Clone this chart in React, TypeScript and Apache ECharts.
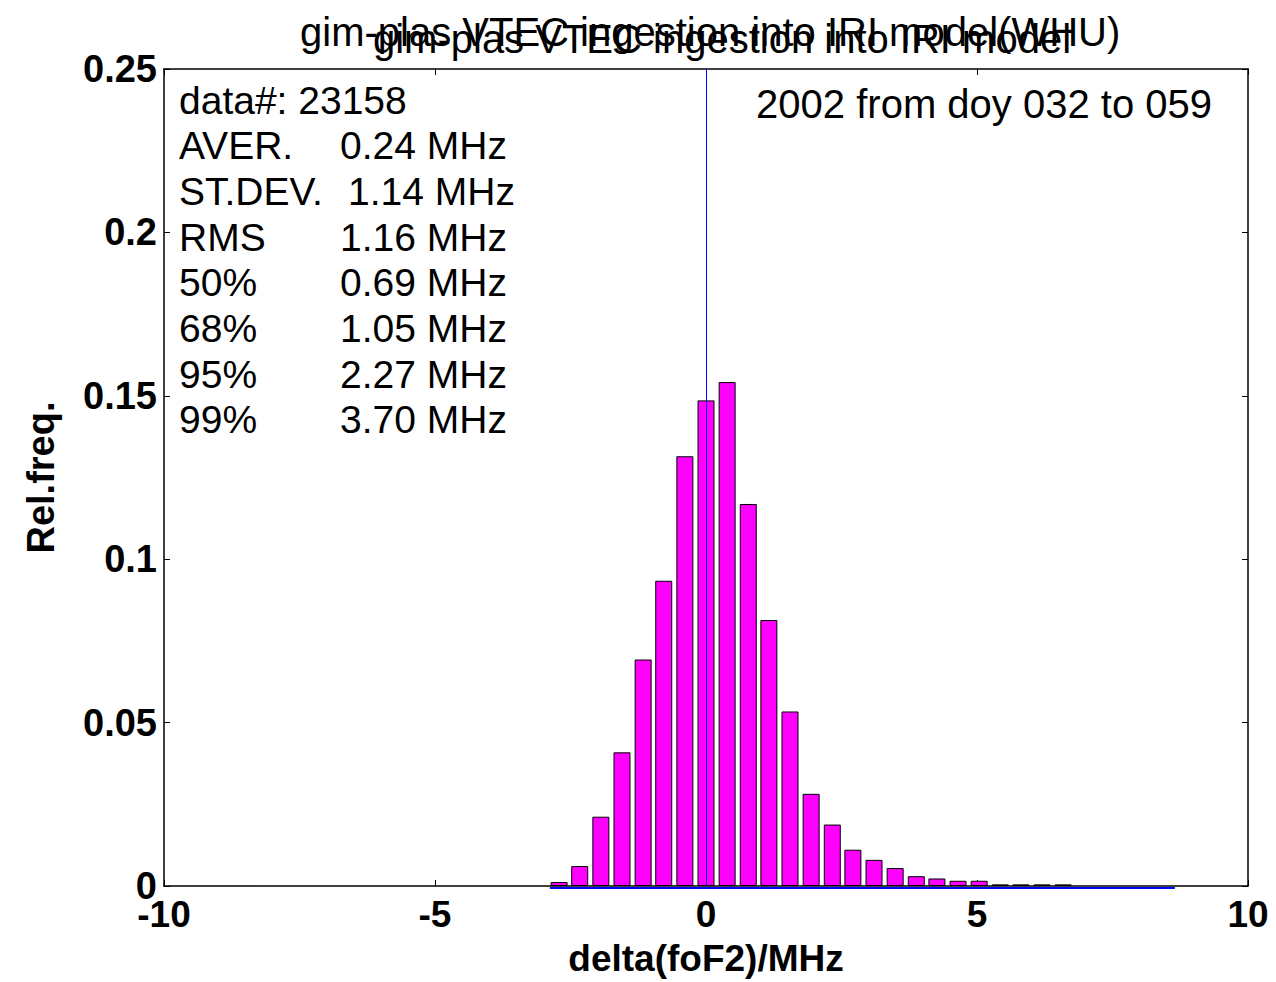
import React, { useEffect, useRef } from "react";
import * as echarts from "echarts";

// Histogram bin centres (MHz) and relative frequencies
const binCenters = [
  -2.71, -2.33, -1.94, -1.55, -1.16, -0.78, -0.39, 0, 0.39, 0.78, 1.16, 1.55, 1.94,
  2.33, 2.71, 3.1, 3.49, 3.88, 4.26, 4.65, 5.04, 5.43, 5.81, 6.2, 6.59,
];
const relFreq = [
  0.0012, 0.0061, 0.0212, 0.0409, 0.0693, 0.0934, 0.1315, 0.1486, 0.1542, 0.1169,
  0.0814, 0.0534, 0.0282, 0.0188, 0.0111, 0.008, 0.0055, 0.003, 0.0023, 0.0016,
  0.0016, 0.0005, 0.0005, 0.0005, 0.0005,
];
const baselineSpan = [-2.88, 8.65];

const yTicks = [0, 0.05, 0.1, 0.15, 0.2, 0.25];

const titleA = "gim-plas VTEC ingestion into IRI model(WHU)";
const titleB = "gim-plas VTEC ingestion into IRI model";
const periodText = "2002 from doy 032 to 059";
const statLabels = ["data#: 23158", "AVER.", "ST.DEV.", "RMS", "50%", "68%", "95%", "99%"];
const statValues = ["", "0.24 MHz", "1.14 MHz", "1.16 MHz", "0.69 MHz", "1.05 MHz", "2.27 MHz", "3.70 MHz"];

const FONT = "'Liberation Sans', Arial, Helvetica, sans-serif";

export default function App() {
  const ref = useRef<HTMLDivElement>(null);
  useEffect(() => {
    if (!ref.current) return;
    const chart = echarts.init(ref.current, null, { renderer: "svg" });
    const statGraphics: any[] = [];
    statLabels.forEach((t, i) => {
      const y = 100 + i * 45.7;
      statGraphics.push({
        type: "text",
        x: 179,
        y,
        style: { text: t, font: `39px ${FONT}`, fill: "#000", verticalAlign: "middle", align: "left" },
      });
      if (statValues[i]) {
        statGraphics.push({
          type: "text",
          x: i === 2 ? 348 : 340,
          y,
          style: { text: statValues[i], font: `39px ${FONT}`, fill: "#000", verticalAlign: "middle", align: "left" },
        });
      }
    });
    const axisCommon = {
      type: "value" as const,
      axisLine: { show: true, onZero: false, lineStyle: { color: "#000", width: 1.5 } },
      axisTick: { show: true, inside: true, length: 6, lineStyle: { color: "#000" } },
      splitLine: { show: false },
    };
    const labelFont = { color: "#000", fontSize: 38, fontWeight: "bold" as const, fontFamily: FONT };
    chart.setOption({
      animation: false,
      backgroundColor: "#fff",
      grid: { left: 164, right: 28, top: 69, bottom: 93, containLabel: false },
      xAxis: [
        {
          ...axisCommon,
          position: "bottom",
          min: -10,
          max: 10,
          interval: 5,
          axisLabel: { ...labelFont, fontSize: 37, margin: 10 },
          name: "delta(foF2)/MHz",
          nameLocation: "middle",
          nameGap: 54,
          nameTextStyle: { ...labelFont, fontSize: 37 },
        },
        {
          ...axisCommon,
          position: "top",
          min: -10,
          max: 10,
          interval: 5,
          axisLabel: { show: false },
        },
      ],
      yAxis: [
        {
          ...axisCommon,
          position: "left",
          min: 0,
          max: 0.25,
          interval: 0.05,
          axisLabel: {
            ...labelFont,
            margin: 7,
            formatter: (v: number) => {
              const m = yTicks.find((t) => Math.abs(t - v) < 1e-9);
              return m === undefined ? "" : String(+m.toFixed(2));
            },
          },
          name: "Rel.freq.",
          nameLocation: "middle",
          nameGap: 104,
          nameTextStyle: { ...labelFont, fontSize: 38 },
        },
        {
          ...axisCommon,
          position: "right",
          min: 0,
          max: 0.25,
          interval: 0.05,
          axisLabel: { show: false },
        },
      ],
      series: [
        {
          type: "line",
          data: baselineSpan.map((x) => [x, -0.0006]),
          symbol: "none",
          clip: false,
          lineStyle: { color: "#0000ff", width: 2 },
          z: 1,
          silent: true,
        },
        {
          type: "bar",
          data: binCenters.map((x, i) => [x, relFreq[i]]),
          barWidth: 17,
          itemStyle: { color: "#ff00ff", borderColor: "#000", borderWidth: 1 },
          z: 2,
          markLine: {
            silent: true,
            symbol: "none",
            label: { show: false },
            lineStyle: { color: "#0000ff", width: 1, type: "solid" },
            data: [{ xAxis: 0 }],
          },
        },
      ],
      graphic: [
        {
          type: "text",
          x: 300,
          y: 12,
          style: { text: titleA, font: `40px ${FONT}`, fill: "#000", align: "left" },
        },
        {
          type: "text",
          x: 722,
          y: 19,
          style: { text: titleB, font: `40px ${FONT}`, fill: "#000", align: "center" },
        },
        {
          type: "text",
          x: 1212,
          y: 104,
          style: { text: periodText, font: `40px ${FONT}`, fill: "#000", align: "right", verticalAlign: "middle" },
        },
        ...statGraphics,
      ],
    });
    return () => chart.dispose();
  }, []);
  return (
    <div
      ref={ref}
      style={{ position: "fixed", left: 0, top: 0, width: 1276, height: 982, background: "#fff" }}
    />
  );
}
